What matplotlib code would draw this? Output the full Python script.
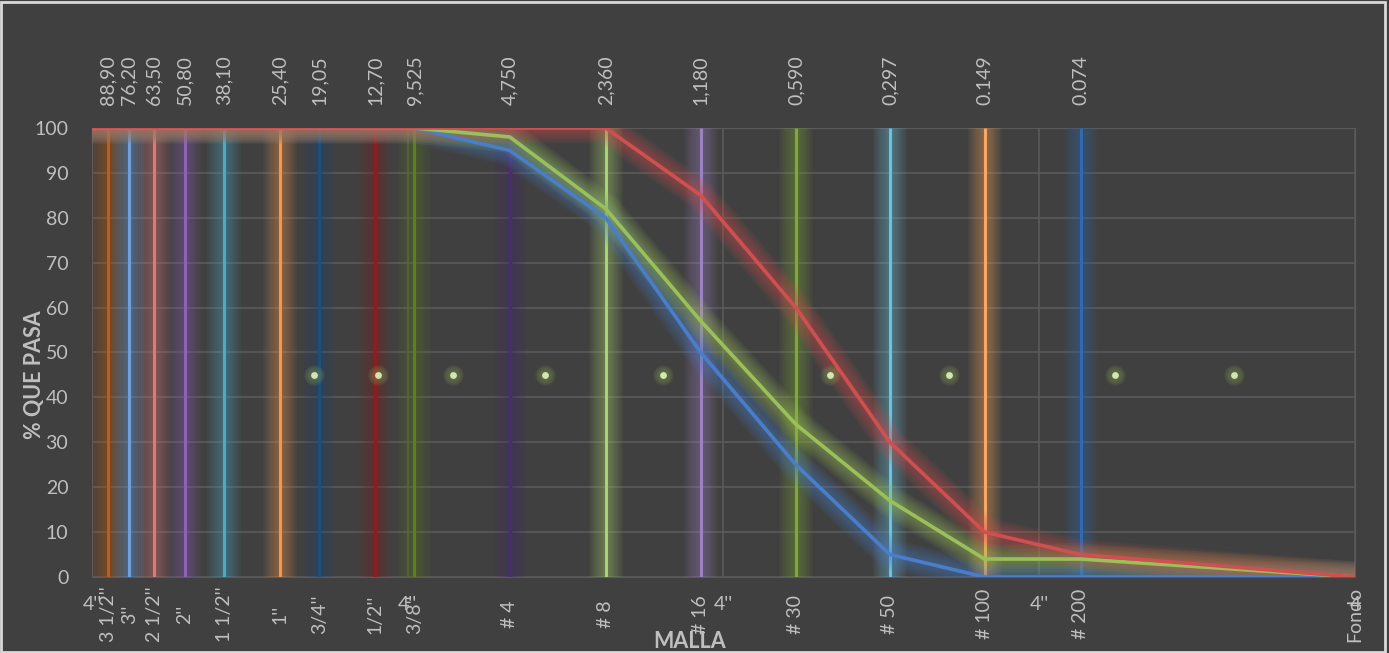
import numpy as np
import matplotlib.pyplot as plt
from matplotlib.patches import Rectangle

# sieve sizes (mm) and labels
sizes = [88.90, 76.20, 63.50, 50.80, 38.10, 25.40, 19.05, 12.70, 9.525,
         4.750, 2.360, 1.180, 0.590, 0.297, 0.149, 0.074]
size_labels = ["88,90", "76,20", "63,50", "50,80", "38,10", "25,40", "19,05", "12,70",
               "9,525", "4,750", "2,360", "1,180", "0,590", "0,297", "0.149", "0.074"]
mesh_labels = ["3 1/2''", "3''", "2 1/2''", "2''", "1 1/2''", "1''", "3/4''", "1/2''",
               "3/8''", "# 4", "# 8", "# 16", "# 30", "# 50", "# 100", "# 200"]
sieve_colors = ["#C55A11", "#6FA0DC", "#E07878", "#8E62B5", "#4BACC6", "#F79646",
                "#1F4E79", "#8B1E22", "#5F7F1F", "#4B2C71", "#A9D46F", "#9B82C0",
                "#7EAA35", "#6AC3E0", "#F9A860", "#2E6BB0"]
fondo_size = 0.01

# gradation curves (x = size mm, y = % que pasa)
curve_x = [100, 88.90, 76.20, 63.50, 50.80, 38.10, 25.40, 19.05, 12.70, 9.525,
           4.750, 2.360, 1.180, 0.590, 0.297, 0.149, 0.074, 0.01]
lim_inf = [100, 100, 100, 100, 100, 100, 100, 100, 100, 100, 95, 80, 50, 25, 5, 0, 0, 0]
muestra = [100, 100, 100, 100, 100, 100, 100, 100, 100, 100, 98, 82, 57, 34, 17, 4, 4, 0]
lim_sup = [100, 100, 100, 100, 100, 100, 100, 100, 100, 100, 100, 100, 85, 60, 30, 10, 5, 0]

# extra point series at 45 %
dot_x = [19.8, 12.4, 7.19, 3.67, 1.55, 0.46, 0.193, 0.0575, 0.0242]
dot_y = [45, 45, 45, 45, 45, 45, 45, 45, 45]

decade_ticks = [100, 10, 1, 0.1, 0.01]
decade_labels = ["4''", "4''", "4''", "4''", "4"]

bg = "#404040"
txt = "#BFBFBF"
plt.rcParams['font.family'] = ['Lato', 'DejaVu Sans']


def glow(ax, x, y, color, lw, width=16, n=8, alpha=0.07, z=2):
    for i in range(n):
        ax.plot(x, y, color=color, lw=lw + width * (i + 1) / n, alpha=alpha,
                solid_capstyle='butt', zorder=z)
    ax.plot(x, y, color=color, lw=lw, solid_capstyle='butt', zorder=z + 0.5)


fig = plt.figure(figsize=(13.89, 6.53), dpi=100, facecolor=bg)
ax = fig.add_axes([0.0662, 0.1164, 0.9093, 0.6876], facecolor=bg)
fig.add_artist(Rectangle((0.001, 0.001), 0.996, 0.996, transform=fig.transFigure,
                         fill=False, edgecolor="#D9D9D9", lw=2))

ax.set_xscale('log')
ax.set_xlim(100, 0.01)
ax.set_ylim(0, 100)

# vertical sieve lines
for s, c in zip(sizes, sieve_colors):
    glow(ax, [s, s], [0, 100], c, 2.2, width=22, alpha=0.06, z=3)

# curves
glow(ax, curve_x, lim_inf, "#4A7EC8", 2.6, width=20, z=4)
glow(ax, curve_x, muestra, "#9BC05A", 2.6, width=20, z=4)
glow(ax, curve_x, lim_sup, "#CF5050", 2.6, width=20, z=4)

# dots
for i in range(5):
    ax.scatter(dot_x, dot_y, s=40 + i * 45, color="#9BC05A", alpha=0.08, lw=0, zorder=6)
ax.scatter(dot_x, dot_y, s=24, color="#D4E6B0", lw=0, zorder=7)

# grid
ax.set_yticks(np.arange(0, 101, 10))
ax.grid(True, axis='both', color="#5A5A5A", lw=1.2, zorder=0)
ax.set_xticks(decade_ticks)
ax.set_xticklabels(decade_labels)
ax.xaxis.set_minor_locator(plt.NullLocator())
ax.tick_params(axis='x', length=0, pad=14, labelsize=14, colors=txt)
ax.tick_params(axis='y', length=0, pad=17, labelsize=14, colors=txt)
for sp in ax.spines.values():
    sp.set_color("#5A5A5A")

# top and bottom labels
tr = ax.get_xaxis_transform()
for s, lab in zip(sizes, size_labels):
    ax.text(s, 1.052, lab, transform=tr, rotation=90, ha='center', va='bottom',
            color=txt, fontsize=14)
for s, lab in zip(sizes, mesh_labels):
    ax.text(s, -0.083, lab, transform=tr, rotation=90, ha='center', va='center',
            color=txt, fontsize=14)
ax.text(fondo_size, -0.083, "Fondo", transform=tr, rotation=90, ha='center',
        va='center', color=txt, fontsize=14)

ax.set_ylabel("% QUE PASA", color=txt, fontsize=15.5, fontweight='bold')
ax.yaxis.set_label_coords(-0.0375, 0.45)
ax.set_xlabel("MALLA", color=txt, fontsize=15.5, fontweight='bold')
ax.xaxis.set_label_coords(0.4735, -0.12)

plt.savefig("out.png", dpi=100, facecolor=bg)
